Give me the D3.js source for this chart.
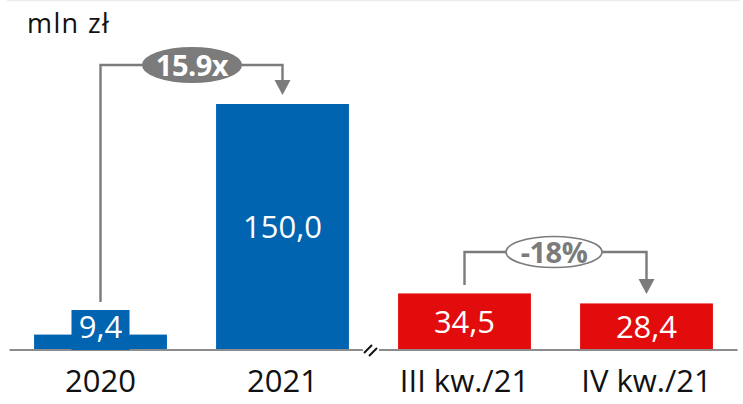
<!DOCTYPE html>
<html>
<head>
<meta charset="utf-8">
<script src="https://cdn.jsdelivr.net/npm/d3@7"></script>
<style>
  html, body { margin: 0; padding: 0; background: #fff; }
  svg { display: block; font-family: "Open Sans", sans-serif; }
</style>
</head>
<body>
<div id="chart"></div>
<script>
// values
const categories = ['2020', '2021', 'III kw./21', 'IV kw./21'];
const values = [9.4, 150.0, 34.5, 28.4];
const labels = ['9,4', '150,0', '34,5', '28,4'];
const groups = ['year', 'year', 'quarter', 'quarter'];
const unit = 'mln zł';
const growth = { from: 0, to: 1, text: '15.9x' };
const change = { from: 2, to: 3, text: '-18%' };

const W = 743, H = 404;
const baseY = 350;
const colour = { year: '#0064b0', quarter: '#e30c0c' };
const grey = '#7b7b7b';

const svg = d3.select('#chart').append('svg').attr('width', W).attr('height', H);

const x = d3.scaleBand().domain(categories).range([9.5, 737.5])
  .paddingInner(0.27).paddingOuter(0.135);
const y = d3.scaleLinear().domain([0, 150]).range([baseY, 104]);
const cx = i => x(categories[i]) + x.bandwidth() / 2;

// thin rule on top
svg.append('line').attr('x1', 7).attr('x2', 740).attr('y1', 0.5).attr('y2', 0.5)
  .attr('stroke', '#ececec').attr('stroke-width', 1.5);

// unit
svg.append('text').attr('x', 27).attr('y', 33).attr('font-size', 27)
  .attr('letter-spacing', 1.4).attr('fill', '#111').text(unit);

// bars
svg.append('g').selectAll('rect').data(values).join('rect')
  .attr('x', (d, i) => x(categories[i]))
  .attr('width', x.bandwidth())
  .attr('y', d => y(d))
  .attr('height', d => baseY - y(d))
  .attr('fill', (d, i) => colour[groups[i]]);

// baseline with break
const gap = [363, 379];
svg.append('line').attr('x1', 9.5).attr('x2', gap[0]).attr('y1', baseY).attr('y2', baseY)
  .attr('stroke', '#8c8c8c').attr('stroke-width', 2);
svg.append('line').attr('x1', gap[1]).attr('x2', 737.5).attr('y1', baseY).attr('y2', baseY)
  .attr('stroke', '#8c8c8c').attr('stroke-width', 2);
[0, 5].forEach(o => {
  svg.append('line')
    .attr('x1', 364 + o).attr('y1', 353 + o * 0.6)
    .attr('x2', 372 + o).attr('y2', 345 + o * 0.6)
    .attr('stroke', '#111').attr('stroke-width', 2);
});

// value labels
const vl = svg.append('g').attr('font-size', 31).attr('fill', '#fff').attr('text-anchor', 'middle');
values.forEach((v, i) => {
  const h = baseY - y(v);
  if (h < 30) {
    svg.insert('rect', 'g:last-of-type')
      .attr('x', cx(i) - 29).attr('width', 58)
      .attr('y', 310).attr('height', baseY - 310)
      .attr('fill', colour[groups[i]]);
    vl.append('text').attr('x', cx(i)).attr('y', 338).text(labels[i]);
  } else {
    vl.append('text').attr('x', cx(i)).attr('y', (y(v) + baseY) / 2 + 11).text(labels[i]);
  }
});

// category labels
svg.append('g').attr('font-size', 31).attr('fill', '#111').attr('text-anchor', 'middle')
  .selectAll('text').data(categories).join('text')
  .attr('x', (d, i) => cx(i)).attr('y', 392).text(d => d);

// connectors
function connector(a, yStart, yTop, yArrowTip, ell, filled) {
  const x1 = cx(a.from), x2 = cx(a.to);
  const mid = ell.cx;
  const g = svg.append('g');
  g.append('path')
    .attr('d', `M${x1},${yStart}V${yTop}H${mid - ell.rx}M${mid + ell.rx},${yTop}H${x2}V${yArrowTip - 14}`)
    .attr('fill', 'none').attr('stroke', grey).attr('stroke-width', 2.4);
  g.append('path')
    .attr('d', `M${x2 - 8},${yArrowTip - 15}L${x2 + 8},${yArrowTip - 15}L${x2},${yArrowTip}Z`)
    .attr('fill', grey);
  g.append('ellipse').attr('cx', mid).attr('cy', yTop).attr('rx', ell.rx).attr('ry', ell.ry)
    .attr('fill', filled ? grey : '#fff').attr('stroke', grey).attr('stroke-width', filled ? 0 : 1.6);
  g.append('text').attr('x', mid).attr('y', yTop + 10.5)
    .attr('text-anchor', 'middle').attr('font-size', 29).attr('font-weight', 700)
    .attr('letter-spacing', -0.5)
    .attr('fill', filled ? '#fff' : grey).text(a.text);
}
connector(growth, 302, 65, 95, { cx: 192, rx: 50, ry: 18 }, true);
connector(change, 285, 252, 294, { cx: 554, rx: 48, ry: 15.5 }, false);
</script>
</body>
</html>
